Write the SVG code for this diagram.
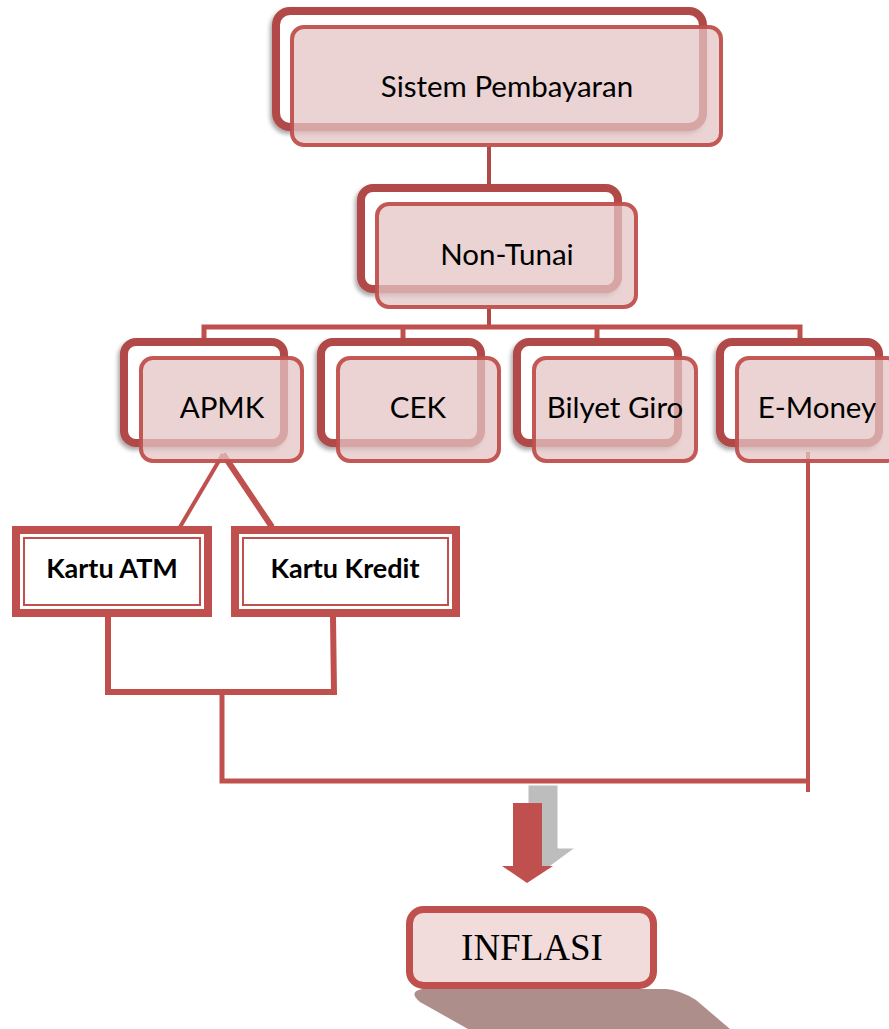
<svg xmlns="http://www.w3.org/2000/svg" width="889" height="1029" viewBox="0 0 889 1029">
  <defs>
    <filter id="sh" x="-10%" y="-10%" width="120%" height="130%">
      <feDropShadow dx="-2" dy="3" stdDeviation="2" flood-color="#000" flood-opacity="0.35"/>
    </filter>
    <style>
      .back{fill:#fff;stroke:#b04a47;stroke-width:8;filter:url(#sh)}
      .front{fill:#e3c4c3;fill-opacity:0.75;stroke:#c0504d;stroke-width:4;stroke-opacity:0.95}
      .lbl{font-family:Lato,"Liberation Sans",sans-serif;font-size:29.5px;fill:#000;text-anchor:middle}
      .card{fill:#fff;stroke:#c0504d;stroke-width:8}
      .cardin{fill:none;stroke:#c0504d;stroke-width:2}
      .blbl{font-family:Lato,"Liberation Sans",sans-serif;font-weight:bold;font-size:27px;fill:#000;text-anchor:middle}
      .ln{fill:none;stroke:#c0504d;stroke-linejoin:miter}
    </style>
  </defs>
  <rect width="889" height="1029" fill="#fff"/>

  <g id="connectors">
    <path class="ln" d="M489,147 L489,188" stroke-width="4" style="stroke:#b04a47"/>
    <path class="ln" d="M489,309 L489,327" stroke-width="4" style="stroke:#b04a47"/>
    <path class="ln" d="M204,342 L204,327 L800,327 L800,342" stroke-width="5"/>
    <path class="ln" d="M403,327 L403,342" stroke-width="5"/>
    <path class="ln" d="M597,327 L597,342" stroke-width="5"/>
    <path class="ln" d="M180,527 L223,454" stroke-width="4"/>
    <path class="ln" d="M223,454 L272,527" stroke-width="6"/>
    <path class="ln" d="M108,617 L108,692 L334,692 L333,617" stroke-width="6"/>
    <path class="ln" d="M222,692 L222,781 L808,781" stroke-width="5"/>
    <path class="ln" d="M808,452 L808,792" stroke-width="4"/>
  </g>

  <g id="node-sistem">
    <rect class="back" x="276" y="11" width="427" height="116" rx="14"/>
    <rect class="front" x="292" y="27" width="429" height="118" rx="12"/>
    <text class="lbl" x="507" y="97">Sistem Pembayaran</text>
  </g>

  <g id="node-nontunai">
    <rect class="back" x="361" y="188" width="257" height="101" rx="12"/>
    <rect class="front" x="377" y="204" width="259" height="103" rx="12"/>
    <text class="lbl" x="507" y="265">Non-Tunai</text>
  </g>

  <g id="node-apmk">
    <rect class="back" x="124" y="342" width="160" height="101" rx="12"/>
    <rect class="front" x="141" y="358" width="161" height="103" rx="12"/>
    <text class="lbl" x="222" y="418">APMK</text>
  </g>

  <g id="node-cek">
    <rect class="back" x="321" y="342" width="160" height="101" rx="12"/>
    <rect class="front" x="338" y="358" width="161" height="103" rx="12"/>
    <text class="lbl" x="418" y="418">CEK</text>
  </g>

  <g id="node-bilyet">
    <rect class="back" x="517" y="342" width="161" height="101" rx="12"/>
    <rect class="front" x="534" y="358" width="162" height="103" rx="12"/>
    <text class="lbl" x="615" y="418">Bilyet Giro</text>
  </g>

  <g id="node-emoney">
    <rect class="back" x="720" y="342" width="159" height="101" rx="12"/>
    <rect class="front" x="737" y="358" width="162" height="103" rx="12"/>
    <text class="lbl" x="817" y="418">E-Money</text>
  </g>

  <g id="node-kartuatm">
    <rect class="card" x="16" y="530" width="192" height="83"/>
    <rect class="cardin" x="24" y="538" width="176" height="67"/>
    <text class="blbl" x="112" y="578">Kartu ATM</text>
  </g>

  <g id="node-kartukredit">
    <rect class="card" x="235" y="530" width="221" height="83"/>
    <rect class="cardin" x="243" y="538" width="205" height="67"/>
    <text class="blbl" x="345" y="578">Kartu Kredit</text>
  </g>

  <g id="arrow">
    <polygon points="528,785 558,785 558,848 575,848 545,870 515,848 528,848" fill="#bdbdbd" stroke="#fff" stroke-width="1"/>
    <polygon points="513,803 542,803 542,866 553,866 527,883 502,866 513,866" fill="#c0504d"/>
  </g>

  <g id="node-inflasi">
    <path d="M422,989 L666,989 Q680,990 696,1000 L730,1029 L468,1029 L420,1002 Q408,992 422,989 Z" fill="#ae8e8b"/>
    <rect x="409.5" y="909.5" width="244" height="76" rx="14" fill="#f2dcdb" stroke="#c0504d" stroke-width="7"/>
    <text x="532" y="960" font-family="'Liberation Serif',serif" font-size="37" text-anchor="middle" fill="#000">INFLASI</text>
  </g>
</svg>
